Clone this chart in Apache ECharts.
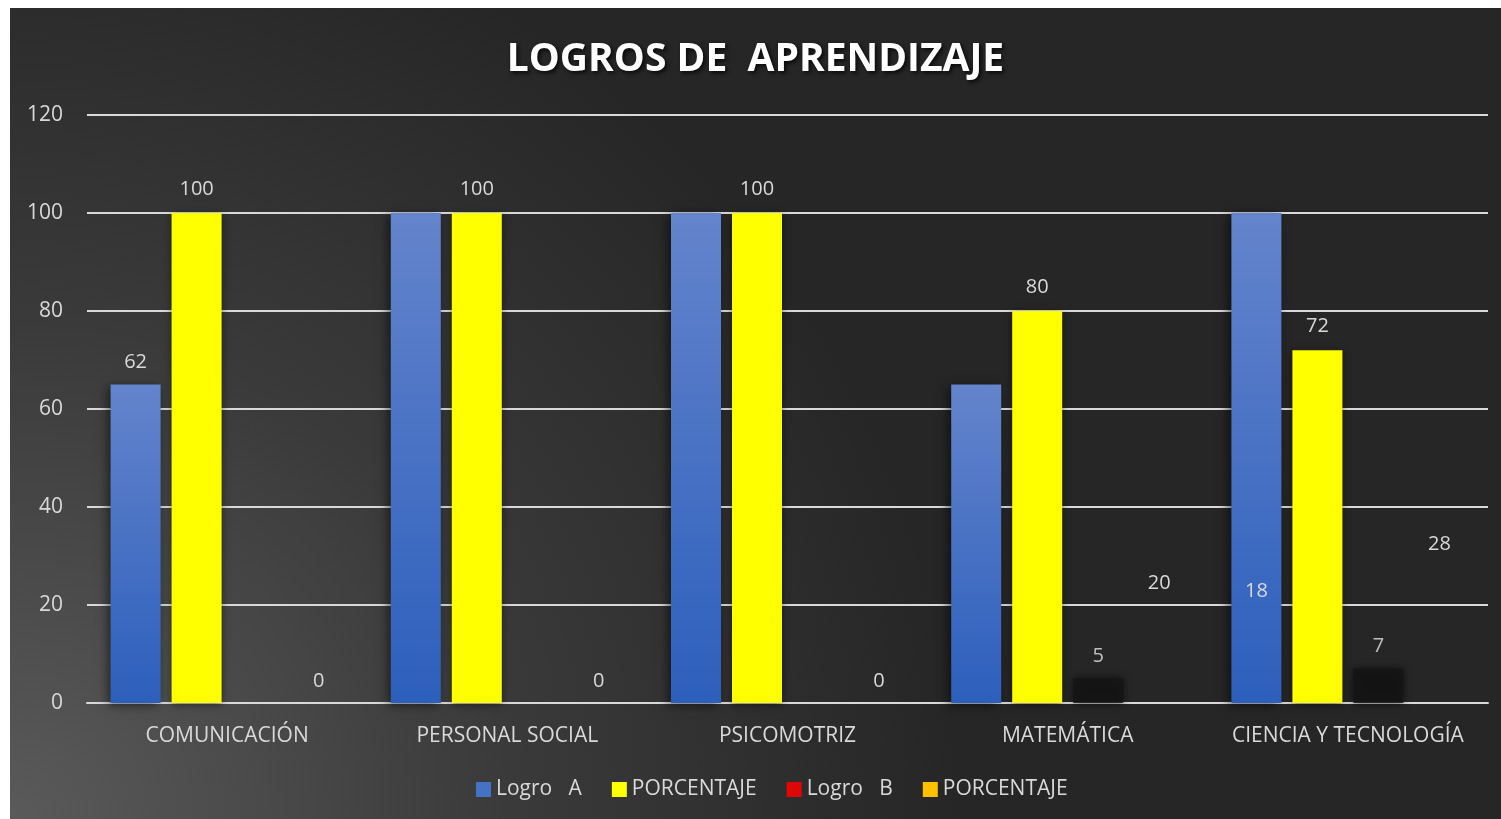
<!DOCTYPE html>
<html>
<head>
<meta charset="utf-8">
<script src="https://cdn.jsdelivr.net/npm/echarts@6/dist/echarts.min.js"></script>
<style>
  html, body { margin: 0; padding: 0; background: #fff; }
  #chart {
    position: absolute; left: 10px; top: 8px; width: 1491px; height: 811px;
    background: radial-gradient(circle at 0% 100%, #5a5a5a 0px, #3a3a3a 500px, #262626 950px);
  }
</style>
</head>
<body>
<div id="chart"></div>
<script>
// datos del gráfico
const categories = ['COMUNICACIÓN', 'PERSONAL SOCIAL', 'PSICOMOTRIZ', 'MATEMÁTICA', 'CIENCIA Y TECNOLOGÍA'];
const logroA = [65, 100, 100, 65, 100];
const logroALabels = ['62', '', '', '', '18'];
const porcentajeA = [100, 100, 100, 80, 72];
const logroB = [0, 0, 0, 5, 7];
const porcentajeB = [0, 0, 0, 20, 28];
const yTicks = [0, 20, 40, 60, 80, 100, 120];

const font = '"Open Sans", "DejaVu Sans", sans-serif';
const txt = '#d9d9d9';

const chart = echarts.init(document.getElementById('chart'));

const labelBase = { show: true, position: 'top', distance: 12, color: txt, fontSize: 20, fontFamily: font };

chart.setOption({
  backgroundColor: 'transparent',
  title: {
    text: 'LOGROS DE  APRENDIZAJE',
    left: 'center',
    top: 27,
    textStyle: {
      color: '#ffffff', fontSize: 39, fontWeight: 'bold', fontFamily: font,
      textShadowColor: 'rgba(0,0,0,0.8)', textShadowBlur: 4, textShadowOffsetX: 2, textShadowOffsetY: 2
    }
  },
  legend: {
    bottom: 14,
    left: 461,
    icon: 'rect',
    itemWidth: 15,
    itemHeight: 15,
    itemGap: 30,
    textStyle: { color: txt, fontSize: 21, fontFamily: font },
    data: [
      { name: 'Logro   A', itemStyle: { color: '#4472c4' } },
      { name: 'PORCENTAJE', itemStyle: { color: '#ffff00' } },
      { name: 'Logro   B', itemStyle: { color: '#ff0000' } },
      { name: 'PORCENTAJE ', itemStyle: { color: '#ffc000' } }
    ]
  },
  grid: { left: 77, right: 13, top: 107, bottom: 116 },
  xAxis: {
    type: 'category',
    data: categories,
    axisTick: { show: false },
    axisLine: { show: true, lineStyle: { color: '#d9d9d9', width: 2 } },
    axisLabel: { color: txt, fontSize: 21, fontFamily: font, margin: 23, interval: 0 }
  },
  yAxis: {
    type: 'value',
    min: yTicks[0],
    max: yTicks[yTicks.length - 1],
    interval: 20,
    axisLine: { show: false },
    axisTick: { show: false },
    splitLine: { lineStyle: { color: '#d9d9d9', width: 2 } },
    axisLabel: { color: txt, fontSize: 21, fontFamily: font, margin: 24 }
  },
  series: [
    {
      name: 'Logro   A',
      type: 'bar',
      barWidth: 50,
      barGap: '22%',
      data: logroA.map((v, i) => i === 4
        ? { value: v, label: { position: 'insideBottom', distance: 0, offset: [0, -102] } }
        : v),
      itemStyle: {
        color: new echarts.graphic.LinearGradient(0, 0, 0, 1, [
          { offset: 0, color: '#6484cc' },
          { offset: 1, color: '#2c5fbc' }
        ]),
        shadowColor: 'rgba(0,0,0,0.55)', shadowBlur: 10, shadowOffsetX: -3, shadowOffsetY: 2
      },
      label: { ...labelBase, formatter: (p) => logroALabels[p.dataIndex] },
      z: 3
    },
    {
      name: 'PORCENTAJE',
      type: 'bar',
      barWidth: 50,
      data: porcentajeA,
      itemStyle: { color: '#ffff00', shadowColor: 'rgba(0,0,0,0.45)', shadowBlur: 8, shadowOffsetY: 2 },
      label: { ...labelBase, distance: 14 }
    },
    {
      name: 'Logro   B',
      type: 'bar',
      barWidth: 50,
      data: logroB,
      itemStyle: { color: '#151515', opacity: 0.85, shadowColor: 'rgba(0,0,0,0.8)', shadowBlur: 8 },
      label: { ...labelBase, formatter: (p) => p.value > 0 ? p.value : '' }
    },
    {
      name: 'PORCENTAJE ',
      type: 'bar',
      barWidth: 50,
      data: porcentajeB,
      itemStyle: { color: 'rgba(0,0,0,0)' },
      label: { ...labelBase }
    }
  ]
});
</script>
</body>
</html>
